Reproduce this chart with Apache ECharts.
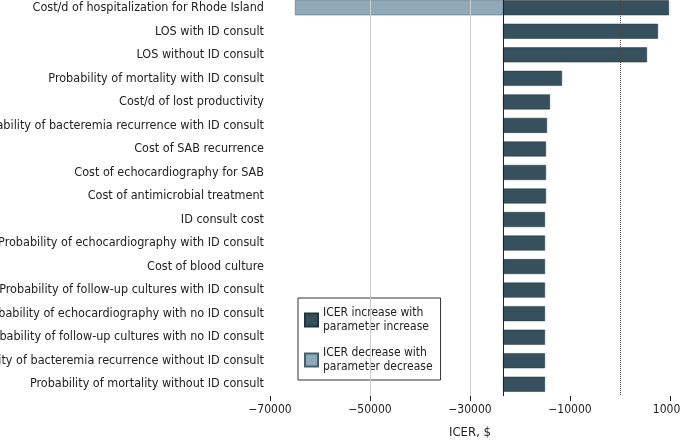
<!DOCTYPE HTML>
<html>
<head>
<meta charset="utf-8"/>
<script src="https://cdn.jsdelivr.net/npm/echarts@6/dist/echarts.min.js"></script>
<style>html,body{margin:0;padding:0;background:#fff}</style>
</head>
<body>
<div id="container" style="width:680px;height:440px"></div>
<script type="text/javascript">
    var params = [
        'Cost/d of hospitalization for Rhode Island',
        'LOS with ID consult',
        'LOS without ID consult',
        'Probability of mortality with ID consult',
        'Cost/d of lost productivity',
        'Probability of bacteremia recurrence with ID consult',
        'Cost of SAB recurrence',
        'Cost of echocardiography for SAB',
        'Cost of antimicrobial treatment',
        'ID consult cost',
        'Probability of echocardiography with ID consult',
        'Cost of blood culture',
        'Probability of follow-up cultures with ID consult',
        'Probability of echocardiography with no ID consult',
        'Probability of follow-up cultures with no ID consult',
        'Probability of bacteremia recurrence without ID consult',
        'Probability of mortality without ID consult'
    ];
    var baseline = -23400;
    // ICER at parameter increase / decrease
    var highValues = [9800, 7600, 5400, -11600, -14000, -14600, -14800, -14800, -14800, -15000, -15000, -15000, -15000, -15000, -15000, -15000, -15000];
    var lowValues = [-65000, null, null, null, null, null, null, null, null, null, null, null, null, null, null, null, null];
    var xTicks = [-70000, -50000, -30000, -10000, 10000];

    var font = "'Liberation Sans Narrow', 'DejaVu Sans Condensed', sans-serif";
    var darkColor = '#36505e';
    var lightColor = '#8fa9b9';

    var baseData = params.map(function () { return baseline; });
    var incData = highValues.map(function (v) { return v - baseline; });
    var decData = lowValues.map(function (v) { return v == null ? null : v - baseline; });

    var myChart = echarts.init(document.getElementById('container'));
    var option = {
        animation: false,
        grid: {left: 270, right: 10, top: -4, bottom: 44, containLabel: false, outerBoundsMode: 'none'},
        legend: {
            orient: 'vertical',
            left: 298, top: 298,
            padding: [8, 8, 6, 6],
            itemGap: 12,
            itemWidth: 13, itemHeight: 13,
            borderColor: '#333', borderWidth: 1,
            backgroundColor: '#fff',
            icon: 'rect',
            textStyle: {fontFamily: font, fontSize: 12, color: '#222', lineHeight: 14},
            data: ['ICER increase with\nparameter increase', 'ICER decrease with\nparameter decrease']
        },
        xAxis: {
            type: 'value',
            min: -70000, max: 10000, interval: 20000,
            name: 'ICER, $', nameLocation: 'middle', nameGap: 30,
            nameTextStyle: {fontFamily: font, fontSize: 13, color: '#222'},
            axisLine: {lineStyle: {color: '#222'}},
            axisTick: {show: true, length: 5, lineStyle: {color: '#222'}},
            axisLabel: {fontFamily: font, fontSize: 12, color: '#222',
                formatter: function (v) { return xTicks.indexOf(v) >= 0 ? String(v).replace('-', '\u2212') : ''; }},
            splitLine: {show: false}
        },
        yAxis: {
            type: 'category', inverse: true, data: params,
            axisLine: {show: false}, axisTick: {show: false},
            axisLabel: {fontFamily: font, fontSize: 12.5, color: '#222', margin: 6}
        },
        series: [
            {
                name: 'base', type: 'bar', stack: 'a', stackStrategy: 'all',
                data: baseData, barWidth: 15, silent: true,
                itemStyle: {color: 'rgba(0,0,0,0)'},
                markLine: {
                    symbol: 'none', silent: true, label: {show: false},
                    data: [
                        {xAxis: -50000, lineStyle: {color: '#ccc', type: 'solid', width: 1}},
                        {xAxis: -30000, lineStyle: {color: '#ccc', type: 'solid', width: 1}},
                        {xAxis: 0, lineStyle: {color: '#444', type: 'dotted', width: 1}},
                        {xAxis: baseline, lineStyle: {color: '#222', type: 'solid', width: 1}}
                    ]
                }
            },
            {
                name: 'ICER increase with\nparameter increase', type: 'bar', stack: 'a', stackStrategy: 'all',
                data: incData, barWidth: 15,
                itemStyle: {color: darkColor, borderColor: '#22343d', borderWidth: 0.5}
            },
            {
                name: 'base2', type: 'bar', stack: 'b', stackStrategy: 'all',
                data: baseData, barWidth: 15, barGap: '-100%', silent: true,
                itemStyle: {color: 'rgba(0,0,0,0)'}
            },
            {
                name: 'ICER decrease with\nparameter decrease', type: 'bar', stack: 'b', stackStrategy: 'all',
                data: decData, barWidth: 15,
                itemStyle: {color: lightColor, borderColor: '#44606e', borderWidth: 0.5}
            }
        ]
    };
    myChart.setOption(option);
</script>
</body>
</html>
